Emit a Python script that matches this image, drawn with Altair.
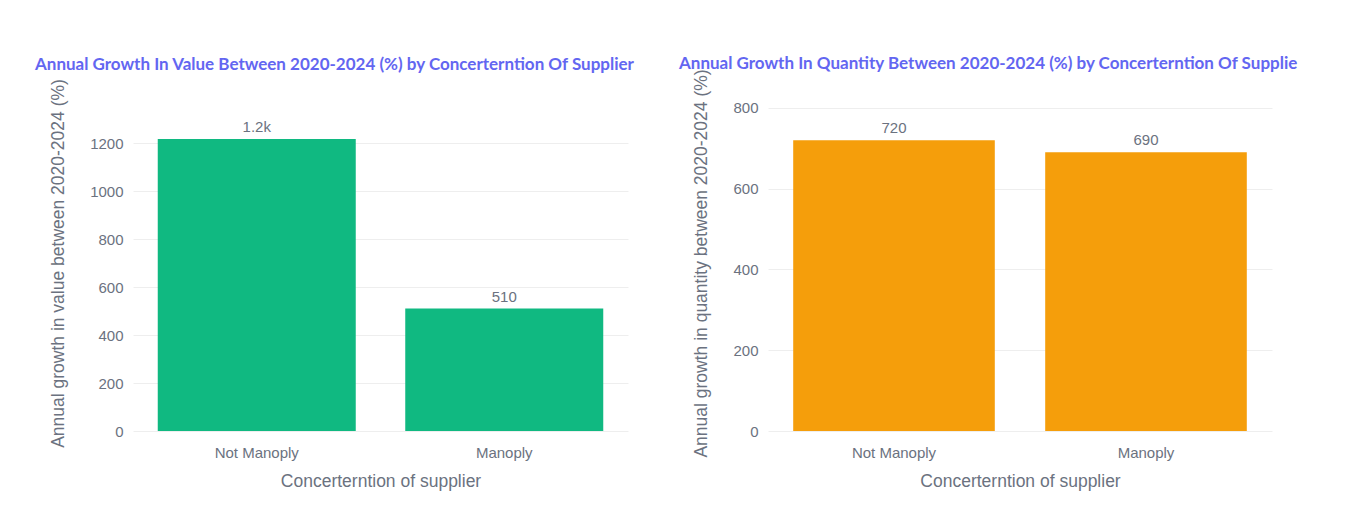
import altair as alt
import pandas as pd

categories = ["Not Manoply", "Manoply"]
value_growth = [1217, 510]
value_labels = ["1.2k", "510"]
quantity_growth = [720, 690]
quantity_labels = ["720", "690"]

left_df = pd.DataFrame({"cat": categories, "val": value_growth, "lab": value_labels})
right_df = pd.DataFrame({"cat": categories, "val": quantity_growth, "lab": quantity_labels})

GRAY = "#6b7280"
TITLE_COLOR = "#6366f1"


def panel(df, color, ytitle, title, ymax, ticks, width, dx, offset):
    x = alt.X("cat:N", sort=categories, title="Concerterntion of supplier",
              scale=alt.Scale(paddingInner=0.2, paddingOuter=0.1),
              axis=alt.Axis(labelAngle=0, ticks=False, domain=False, labelPadding=14,
                            titlePadding=12))
    y = alt.Y("val:Q", title=ytitle,
              scale=alt.Scale(domain=[0, ymax], nice=False),
              axis=alt.Axis(values=ticks, format="d", ticks=False, domain=False, labelPadding=10,
                            titlePadding=22, gridColor="#eeeeee"))
    bars = alt.Chart(df).mark_bar(color=color).encode(x=x, y=y)
    text = alt.Chart(df).mark_text(baseline="bottom", dy=-4, fontSize=15, color=GRAY,
                                   font="Liberation Sans").encode(
        x=alt.X("cat:N", sort=categories), y="val:Q", text="lab:N")
    return alt.layer(bars, text).properties(
        width=width, height=336,
        title=alt.TitleParams(title, anchor="start", frame="group", dx=dx, offset=offset,
                              fontSize=17, font="Lato", fontWeight="bold", color=TITLE_COLOR),
    )


left = panel(left_df, "#10b981", "Annual growth in value between 2020-2024 (%)",
             "Annual Growth In Value Between 2020-2024 (%) by Concerterntion Of Supplier",
             1400, [0, 200, 400, 600, 800, 1000, 1200], 495, -98, 5)
right = panel(right_df, "#f59e0b", "Annual growth in quantity between 2020-2024 (%)",
              "Annual Growth In Quantity Between 2020-2024 (%) by Concerterntion Of Supplie",
              832, [0, 200, 400, 600, 800], 504, -89, -4)

chart = alt.hconcat(left, right, spacing=43).properties(
    padding={"left": 27, "top": 46, "right": 5, "bottom": 5},
    background="white",
).configure_view(stroke=None).configure_axis(
    labelFont="Liberation Sans", labelFontSize=15, labelColor=GRAY,
    titleFont="Liberation Sans", titleFontSize=17.5, titleColor=GRAY, titleFontWeight="normal",
)

chart.save("out.html", embed_options={"renderer": "svg", "actions": False})
